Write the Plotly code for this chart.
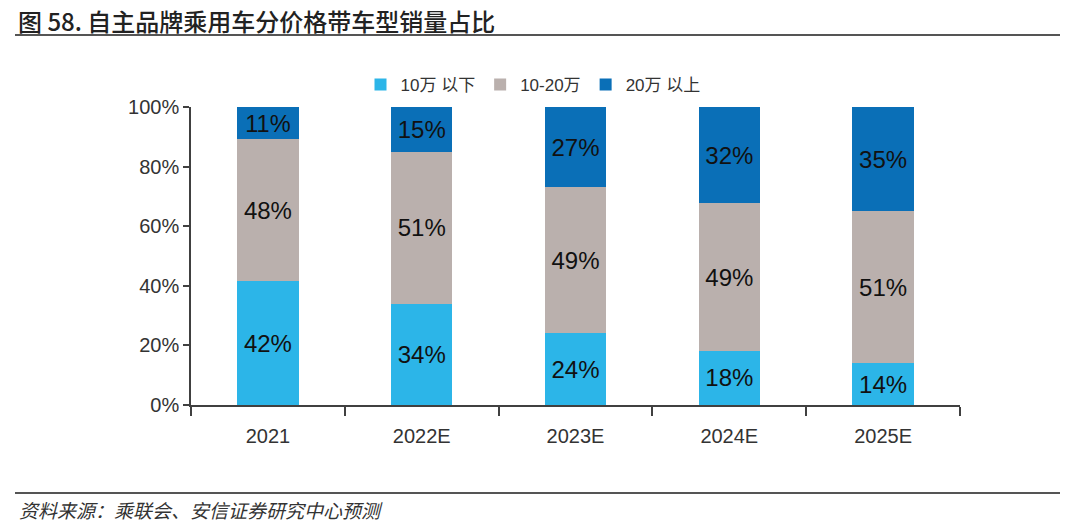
import plotly.graph_objects as go

categories = ["2021", "2022E", "2023E", "2024E", "2025E"]
below_10 = [42, 34, 24, 18, 14]
mid_10_20 = [48, 51, 49, 49, 51]
above_20 = [11, 15, 27, 32, 35]
series_names = ["10万 以下", "10-20万", "20万 以上"]
colors = ["#2cb5e8", "#bab0ad", "#0a6fb7"]

W, H = 1080, 522
L, R, T, B = 191, 960, 107, 405
def px_x(x):
    return (x - L) / (R - L)
def px_y(y):
    return (B - y) / (B - T)

fig = go.Figure()
for name, vals, c in zip(series_names, [below_10, mid_10_20, above_20], colors):
    fig.add_trace(go.Bar(
        x=categories, y=vals, name=name, marker=dict(color=c, line=dict(width=0)),
        text=[f"{v}%" for v in vals], texttemplate="%{text}", textposition="inside",
        insidetextanchor="middle",
        textfont=dict(family="Liberation Sans, Arial", size=24, color="#111111"),
        hoverinfo="skip",
    ))

fig.update_layout(
    barmode="stack", barnorm="percent", bargap=0.6,
    width=W, height=H,
    margin=dict(l=L, r=W - R, t=T, b=H - B),
    paper_bgcolor="white", plot_bgcolor="white",
    font=dict(family="Liberation Sans, Arial, Noto Sans CJK SC", color="#333333"),
    legend=dict(orientation="h", x=px_x(533), y=px_y(85), xanchor="center", yanchor="middle",
                font=dict(size=17, color="#333333", family="Liberation Sans, Noto Sans CJK SC"),
                traceorder="normal", itemclick=False),
    showlegend=True,
)
fig.update_xaxes(
    showline=True, linecolor="#404040", linewidth=1.5,
    ticks="outside", ticklen=9, tickcolor="#404040", tickwidth=1.5,
    tickson="boundaries", showgrid=False,
    ticklabelstandoff=12,
    tickfont=dict(size=20, color="#333333"),
)
fig.update_yaxes(
    range=[0, 100], tickvals=[0, 20, 40, 60, 80, 100],
    ticktext=["0%", "20%", "40%", "60%", "80%", "100%"],
    showline=True, linecolor="#404040", linewidth=1.5,
    ticks="outside", ticklen=6, tickcolor="#404040", tickwidth=1.5,
    showgrid=False, zeroline=False,
    tickfont=dict(size=20, color="#333333"),
)

# title and rules
fig.add_annotation(
    text="图 58. 自主品牌乘用车分价格带车型销量占比",
    xref="paper", yref="paper", x=px_x(16), y=px_y(20), xanchor="left", yanchor="middle",
    showarrow=False, font=dict(family="Noto Sans CJK SC", size=24, color="#222222", weight=500),
)
fig.add_shape(type="line", xref="paper", yref="paper",
              x0=px_x(15), x1=px_x(1060), y0=px_y(35), y1=px_y(35),
              line=dict(color="#555555", width=2))
fig.add_shape(type="line", xref="paper", yref="paper",
              x0=px_x(15), x1=px_x(1060), y0=px_y(493), y1=px_y(493),
              line=dict(color="#555555", width=2))
fig.add_annotation(
    text="<i>资料来源：乘联会、安信证券研究中心预测</i>",
    xref="paper", yref="paper", x=px_x(17), y=px_y(509), xanchor="left", yanchor="middle",
    showarrow=False, font=dict(family="Noto Sans CJK SC", size=19, color="#333333"),
)

fig.write_html("out.html", config={"displayModeBar": False},
               post_script="document.body.style.margin='0';")
